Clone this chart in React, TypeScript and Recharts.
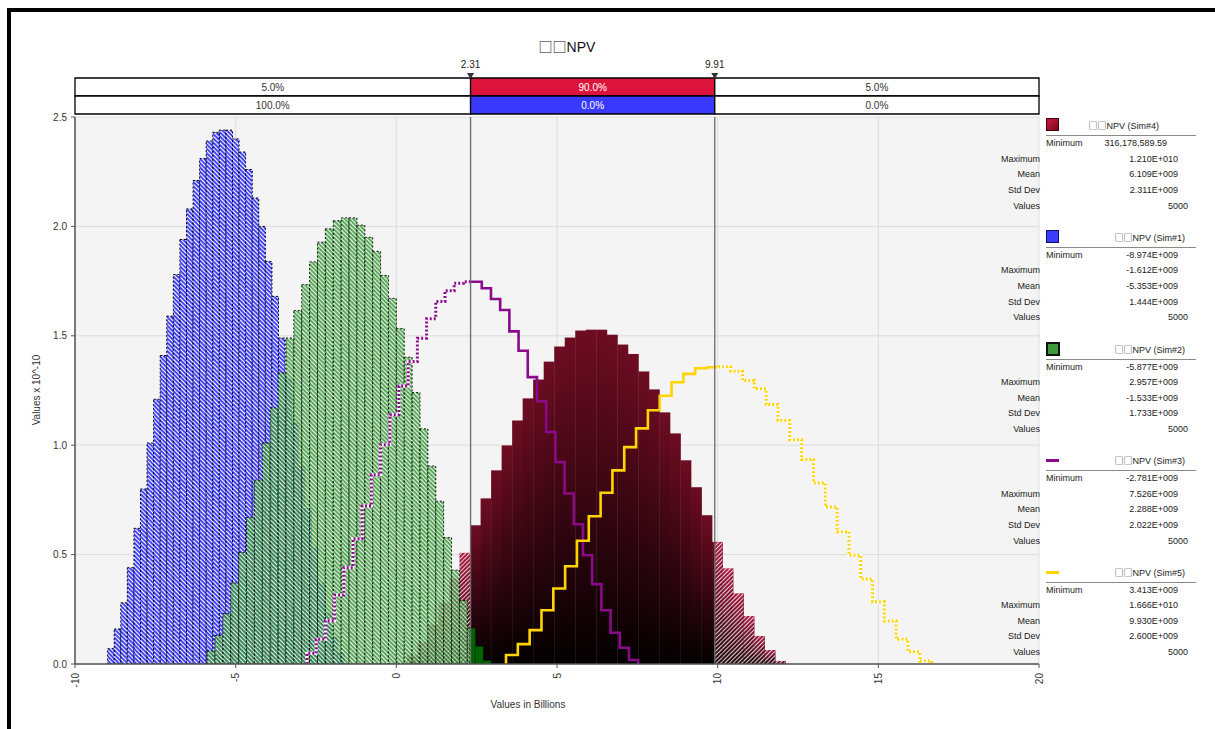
import React from "react";
import {
  ComposedChart,
  Bar,
  Line,
  XAxis,
  YAxis,
  CartesianGrid,
  ReferenceLine,
  ReferenceArea,
  ReferenceDot,
} from "recharts";

const FONT = "'Liberation Sans', 'DejaVu Sans', sans-serif";
const BOX_FONT = "'Noto Sans CJK SC', 'DejaVu Sans', sans-serif";

// selected window on the x axis (billions)
const rangeLow = 2.31;
const rangeHigh = 9.91;
const binCount = 36;

// min / max of each simulation (billions) and its histogram heights (x 10^-10)
const sim1Bounds = [-8.974, -1.612];
const sim1Heights = [
  0.07, 0.16, 0.28, 0.44, 0.62, 0.8, 1.01, 1.21, 1.41, 1.59, 1.78, 1.94, 2.08, 2.21, 2.31, 2.39, 2.43, 2.44,
  2.44, 2.4, 2.34, 2.26, 2.13, 2.0, 1.84, 1.68, 1.49, 1.3, 1.1, 0.9, 0.71, 0.53, 0.37, 0.23, 0.12, 0.05,
];
const sim2Bounds = [-5.877, 2.957];
const sim2Heights = [
  0.06, 0.13, 0.23, 0.37, 0.51, 0.67, 0.84, 1.01, 1.17, 1.33, 1.49, 1.615, 1.734, 1.838, 1.928, 1.989, 2.026, 2.039,
  2.039, 2.006, 1.95, 1.886, 1.776, 1.671, 1.533, 1.402, 1.241, 1.075, 0.905, 0.744, 0.578, 0.429, 0.29, 0.164, 0.08, 0.015,
];
const sim3Bounds = [-2.781, 7.526];
const sim3Heights = [
  0.049, 0.113, 0.198, 0.315, 0.44, 0.573, 0.722, 0.865, 1.002, 1.139, 1.27, 1.382, 1.489, 1.578, 1.657, 1.706, 1.74, 1.747,
  1.747, 1.717, 1.668, 1.618, 1.52, 1.432, 1.311, 1.201, 1.06, 0.923, 0.779, 0.639, 0.497, 0.365, 0.246, 0.143, 0.074, 0.018,
];
const sim4Bounds = [0.316, 12.1];
const sim4Heights = [
  0.04, 0.1, 0.18, 0.28, 0.39, 0.508, 0.634, 0.757, 0.885, 0.999, 1.113, 1.214, 1.3, 1.382, 1.451, 1.492, 1.524, 1.528,
  1.528, 1.505, 1.46, 1.417, 1.337, 1.255, 1.15, 1.054, 0.931, 0.808, 0.68, 0.558, 0.437, 0.323, 0.219, 0.128, 0.064, 0.014,
];
const sim5Bounds = [3.413, 16.66];
const sim5Heights = [
  0.041, 0.091, 0.155, 0.246, 0.345, 0.447, 0.563, 0.675, 0.783, 0.885, 0.991, 1.077, 1.16, 1.226, 1.288, 1.326, 1.352, 1.356,
  1.359, 1.338, 1.296, 1.258, 1.186, 1.113, 1.025, 0.935, 0.827, 0.718, 0.604, 0.497, 0.388, 0.284, 0.196, 0.113, 0.056, 0.014,
];

const xTicks = [-10, -5, 0, 5, 10, 15, 20];
const yTicks = [0, 0.5, 1, 1.5, 2, 2.5];

// delimiter bar above the plot
const sim4Shares = ["5.0%", "90.0%", "5.0%"];
const sim1Shares = ["100.0%", "0.0%", "0.0%"];

// statistics panel
const chartTitle = "□□NPV";
const legendNames = ["□□NPV (Sim#4)", "□□NPV (Sim#1)", "□□NPV (Sim#2)", "□□NPV (Sim#3)", "□□NPV (Sim#5)"];
const legendMinimum = ["316,178,589.59", "-8.974E+009", "-5.877E+009", "-2.781E+009", "3.413E+009"];
const legendMaximum = ["1.210E+010", "-1.612E+009", "2.957E+009", "7.526E+009", "1.666E+010"];
const legendMean = ["6.109E+009", "-5.353E+009", "-1.533E+009", "2.288E+009", "9.930E+009"];
const legendStdDev = ["2.311E+009", "1.444E+009", "1.733E+009", "2.022E+009", "2.600E+009"];
const legendValues = ["5000", "5000", "5000", "5000", "5000"];

// layout
const W = 1215;
const MAIN_H = 721;
const M_LEFT = 35;
const Y_W = 40;
const M_RIGHT = 176;
const PX_PER_UNIT = (W - M_LEFT - Y_W - M_RIGHT) / 30;

const binWidth = (b: number[]) => (b[1] - b[0]) / binCount;

// one row per bin, each simulation on its own hidden x axis
const histRows = Array.from({ length: binCount }, (_, k) => {
  const row: any = {};
  const add = (key: string, b: number[], h: number[]) => {
    const w = binWidth(b);
    row[key + "Lo"] = b[0] + k * w;
    row[key + "Hi"] = b[0] + (k + 1) * w;
    row[key + "x"] = b[0] + (k + 0.5) * w;
    row[key + "h"] = h[k];
  };
  add("b", sim1Bounds, sim1Heights);
  add("g", sim2Bounds, sim2Heights);
  add("m", sim4Bounds, sim4Heights);
  return row;
});

// step outline of a histogram
const stepOutline = (b: number[], h: number[]) => {
  const w = binWidth(b);
  const pts = [{ x: b[0], y: 0 }];
  h.forEach((v, k) => pts.push({ x: b[0] + k * w, y: v }));
  pts.push({ x: b[1], y: h[h.length - 1] });
  pts.push({ x: b[1], y: 0 });
  return pts;
};

const valueAt = (pts: { x: number; y: number }[], v: number) => {
  let y = 0;
  for (const p of pts) {
    if (p.x <= v) y = p.y;
    else break;
  }
  return y;
};

const clipSteps = (pts: { x: number; y: number }[], a: number, b: number) => {
  const first = pts[0].x;
  const last = pts[pts.length - 1].x;
  const lo = Math.max(a, first);
  const hi = Math.min(b, last);
  if (lo >= hi) return [];
  const inner = pts.filter((p) => (lo > first ? p.x > lo : p.x >= lo) && (hi < last ? p.x < hi : p.x <= hi));
  return [
    ...(lo > first ? [{ x: lo, y: valueAt(pts, lo) }] : []),
    ...inner,
    ...(hi < last ? [{ x: hi, y: valueAt(pts, hi) }] : []),
  ];
};

const purpleSteps = stepOutline(sim3Bounds, sim3Heights);
const yellowSteps = stepOutline(sim5Bounds, sim5Heights);

const lineSeries = [
  { pts: purpleSteps, color: "#8b0a8b" },
  { pts: yellowSteps, color: "#ffd400" },
];

// split a bar into parts outside / inside the selected window
// (width rebuilt from the bin so that neighbouring bars touch)
const splitBar = (x0: number, w0: number, lo: number, hi: number) => {
  const width = (hi - lo) * PX_PER_UNIT;
  const x = x0 + w0 / 2 - width / 2;
  const toPx = (v: number) => x + (width * (v - lo)) / (hi - lo);
  const a = Math.min(Math.max(toPx(rangeLow), x), x + width);
  const b = Math.min(Math.max(toPx(rangeHigh), x), x + width);
  const parts: { from: number; to: number; inside: boolean }[] = [];
  if (a > x) parts.push({ from: x, to: a, inside: false });
  if (b > a) parts.push({ from: a, to: b, inside: true });
  if (x + width > b) parts.push({ from: b, to: x + width, inside: false });
  return parts;
};

const BlueBar = (p: any) => {
  const { x, y, width, height, payload } = p;
  if (!(height > 0)) return <g />;
  return (
    <g>
      {splitBar(x, width, payload.bLo, payload.bHi).map((s, i) => (
        <rect
          key={i}
          x={s.from}
          y={y}
          width={s.to - s.from}
          height={height}
          fill={s.inside ? "#3c3cff" : "url(#blueHatch)"}
          stroke="#000"
          strokeWidth={1}
          strokeDasharray={s.inside ? undefined : "2 2"}
        />
      ))}
    </g>
  );
};

const GreenBar = (p: any) => {
  const { x, y, width, height, payload } = p;
  if (!(height > 0)) return <g />;
  return (
    <g>
      {splitBar(x, width, payload.gLo, payload.gHi).map((s, i) =>
        s.inside ? (
          <rect key={i} x={s.from} y={y} width={s.to - s.from} height={height} fill="#006400" stroke="#003a00" strokeWidth={0.6} />
        ) : (
          <rect
            key={i}
            x={s.from}
            y={y}
            width={s.to - s.from}
            height={height}
            fill="url(#greenHatch)"
            fillOpacity={0.8}
            stroke="#000"
            strokeOpacity={0.9}
            strokeWidth={1}
            strokeDasharray="2 2"
          />
        )
      )}
    </g>
  );
};

const MaroonBar = (p: any) => {
  const { x, y, width, height, payload } = p;
  if (!(height > 0)) return <g />;
  return (
    <g>
      {splitBar(x, width, payload.mLo, payload.mHi).map((s, i) => (
        <g key={i}>
          <rect
            x={s.from}
            y={y}
            width={s.to - s.from + 0.4}
            height={height}
            fill={s.inside ? "url(#maroonGrad)" : "url(#maroonTail)"}
          />
          {!s.inside && <rect x={s.from} y={y} width={s.to - s.from} height={height} fill="url(#whiteHatch)" />}
        </g>
      ))}
    </g>
  );
};

const XTick = (p: any) => {
  const { x, y, payload } = p;
  return (
    <text
      x={x}
      y={y}
      transform={`rotate(-90 ${x} ${y})`}
      textAnchor="end"
      dominantBaseline="central"
      fontSize={10}
      fill="#333"
      fontFamily={FONT}
    >
      {payload.value}
    </text>
  );
};

const Marker = (p: any) => {
  const { cx, cy } = p;
  return <path d={`M${cx - 3.5},${cy - 5} L${cx + 3.5},${cy - 5} L${cx},${cy + 1} Z`} fill="#333" />;
};

// the missing-glyph boxes are drawn with a CJK font so they come out full width
const Boxed = ({ text }: { text: string }) => (
  <>
    {Array.from(text).map((ch, i) =>
      ch === "□" ? (
        <span key={i} style={{ fontFamily: BOX_FONT }}>
          {ch}
        </span>
      ) : (
        <React.Fragment key={i}>{ch}</React.Fragment>
      )
    )}
  </>
);

const Txt = ({ x, y, align, children, size = 9, color = "#222", width = 160 }: any) => {
  const left = align === "right" ? x - width : align === "center" ? x - width / 2 : x;
  return (
    <div
      style={{
        position: "absolute",
        left,
        top: y - 7,
        width,
        height: 14,
        lineHeight: "14px",
        fontSize: size,
        textAlign: align,
        color,
        whiteSpace: "nowrap",
        fontFamily: FONT,
      }}
    >
      {children}
    </div>
  );
};

const Swatch = ({ i, cy }: { i: number; cy: number }) => {
  const box = { position: "absolute" as const, left: 1046, top: cy - 8, width: 11, height: 11 };
  if (i === 0)
    return <div style={{ ...box, background: "linear-gradient(135deg, #d0163f, #7a0a22)", border: "1px solid #3a0010" }} />;
  if (i === 1) return <div style={{ ...box, background: "#3c3cff", border: "1px solid #101060" }} />;
  if (i === 2) return <div style={{ ...box, width: 10, height: 10, background: "#3c9a3c", border: "2px solid #111" }} />;
  return (
    <div
      style={{ position: "absolute", left: 1046, top: cy - 2, width: 13, height: 3, background: i === 3 ? "#8b0a8b" : "#ffd400" }}
    />
  );
};

const LegendBlock = ({ i }: { i: number }) => {
  const cy = 126.3 + i * 111.6;
  const rows = [
    ["Maximum", legendMaximum[i]],
    ["Mean", legendMean[i]],
    ["Std Dev", legendStdDev[i]],
  ];
  return (
    <>
      <Swatch i={i} cy={cy} />
      <Txt x={i === 0 ? 1159 : 1185} y={cy} align="right">
        <Boxed text={legendNames[i]} />
      </Txt>
      <div style={{ position: "absolute", left: 1046, top: cy + 9, width: 150, height: 1, background: "#8a8a8a" }} />
      <Txt x={1046} y={cy + 17} align="left">
        Minimum
      </Txt>
      <Txt x={i === 0 ? 1167 : 1178} y={cy + 17} align="right">
        {legendMinimum[i]}
      </Txt>
      {rows.map((r, j) => (
        <React.Fragment key={j}>
          <Txt x={1040} y={cy + 32.5 + j * 15.6} align="right">
            {r[0]}
          </Txt>
          <Txt x={1178} y={cy + 32.5 + j * 15.6} align="right">
            {r[1]}
          </Txt>
        </React.Fragment>
      ))}
      <Txt x={1040} y={cy + 79.5} align="right">
        Values
      </Txt>
      <Txt x={1188} y={cy + 79.5} align="right">
        {legendValues[i]}
      </Txt>
    </>
  );
};

const segments = [
  [-10, rangeLow],
  [rangeLow, rangeHigh],
  [rangeHigh, 20],
];

const App = () => {
  return (
    <div style={{ position: "fixed", left: 0, top: 0, width: W, height: 729, background: "#fff", overflow: "hidden" }}>
      {/* frame */}
      <div
        style={{
          position: "absolute",
          left: 7,
          top: 8,
          width: 1206,
          height: 760,
          borderTop: "4px solid #000",
          borderLeft: "4px solid #000",
          borderRight: "4px solid #000",
        }}
      />

      <ComposedChart
        width={W}
        height={MAIN_H}
        data={histRows}
        margin={{ top: 117, right: M_RIGHT, bottom: 27, left: M_LEFT }}
        barGap={0}
        barCategoryGap={0}
        style={{ position: "absolute", left: 0, top: 0 }}
      >
        <defs>
          <pattern id="blueHatch" width="3" height="3" patternUnits="userSpaceOnUse" patternTransform="rotate(-45)">
            <rect width="3" height="3" fill="#3c3cff" />
            <rect width="1.1" height="3" fill="#ffffff" />
          </pattern>
          <pattern id="greenHatch" width="3" height="3" patternUnits="userSpaceOnUse" patternTransform="rotate(-45)">
            <rect width="3" height="3" fill="#2f932f" />
            <rect width="1.1" height="3" fill="#e6f4e6" />
          </pattern>
          <pattern id="whiteHatch" width="3" height="3" patternUnits="userSpaceOnUse" patternTransform="rotate(45)">
            <rect width="1.1" height="3" fill="#ffffff" fillOpacity={0.8} />
          </pattern>
          <linearGradient id="maroonGrad" x1="0" y1="0" x2="0" y2="1">
            <stop offset="0%" stopColor="#6e0c22" />
            <stop offset="100%" stopColor="#030001" />
          </linearGradient>
          <linearGradient id="maroonTail" x1="0" y1="0" x2="0" y2="1">
            <stop offset="0%" stopColor="#a3123a" />
            <stop offset="100%" stopColor="#1a0007" />
          </linearGradient>
        </defs>

        <CartesianGrid fill="#f4f4f4" stroke="#dcdcdc" strokeWidth={1} />

        <XAxis
          type="number"
          dataKey="x"
          domain={[-10, 20]}
          ticks={xTicks}
          allowDataOverflow
          height={30}
          tick={<XTick />}
          tickSize={4}
          tickMargin={5}
          axisLine={{ stroke: "#555", strokeWidth: 1.5 }}
          tickLine={{ stroke: "#555" }}
          interval={0}
        />
        <XAxis xAxisId="b" type="number" dataKey="bx" domain={[-10, 20]} hide allowDataOverflow />
        <XAxis xAxisId="g" type="number" dataKey="gx" domain={[-10, 20]} hide allowDataOverflow />
        <XAxis xAxisId="m" type="number" dataKey="mx" domain={[-10, 20]} hide allowDataOverflow />
        <YAxis
          type="number"
          domain={[0, 2.5]}
          ticks={yTicks}
          width={Y_W}
          allowDataOverflow
          tickFormatter={(v: number) => v.toFixed(1)}
          tick={{ fontSize: 10, fill: "#333", fontFamily: FONT }}
          tickSize={4}
          tickMargin={4}
          axisLine={{ stroke: "#555", strokeWidth: 1.5 }}
          tickLine={{ stroke: "#555" }}
          interval={0}
        />

        <Bar
          xAxisId="m"
          dataKey="mh"
          barSize={binWidth(sim4Bounds) * PX_PER_UNIT}
          shape={(p: any) => <MaroonBar {...p} />}
          isAnimationActive={false}
        />
        <Bar
          xAxisId="b"
          dataKey="bh"
          barSize={binWidth(sim1Bounds) * PX_PER_UNIT}
          shape={(p: any) => <BlueBar {...p} />}
          isAnimationActive={false}
        />
        <Bar
          xAxisId="g"
          dataKey="gh"
          barSize={binWidth(sim2Bounds) * PX_PER_UNIT}
          shape={(p: any) => <GreenBar {...p} />}
          isAnimationActive={false}
        />

        {lineSeries.map((s, i) => {
          const left = clipSteps(s.pts, -Infinity, rangeLow);
          const mid = clipSteps(s.pts, rangeLow, rangeHigh);
          const right = clipSteps(s.pts, rangeHigh, Infinity);
          return (
            <React.Fragment key={i}>
              {[left, right]
                .filter((d) => d.length > 1)
                .map((d, j) => (
                  <React.Fragment key={j}>
                    <Line
                      data={d}
                      dataKey="y"
                      type="stepAfter"
                      stroke="#ffffff"
                      strokeWidth={3}
                      dot={false}
                      activeDot={false}
                      isAnimationActive={false}
                    />
                    <Line
                      data={d}
                      dataKey="y"
                      type="stepAfter"
                      stroke={s.color}
                      strokeWidth={3}
                      strokeDasharray="2 2"
                      dot={false}
                      activeDot={false}
                      isAnimationActive={false}
                    />
                  </React.Fragment>
                ))}
              {mid.length > 1 && (
                <Line
                  data={mid}
                  dataKey="y"
                  type="stepAfter"
                  stroke={s.color}
                  strokeWidth={2.6}
                  dot={false}
                  activeDot={false}
                  isAnimationActive={false}
                />
              )}
            </React.Fragment>
          );
        })}

        <ReferenceLine x={rangeLow} stroke="#6a6a6a" strokeWidth={1.3} />
        <ReferenceLine x={rangeHigh} stroke="#6a6a6a" strokeWidth={1.3} />
      </ComposedChart>

      {/* delimiter bar */}
      <ComposedChart
        width={W}
        height={116}
        data={[{ x: -10 }, { x: 20 }]}
        margin={{ top: 78, right: M_RIGHT, bottom: 2, left: M_LEFT + Y_W }}
        style={{ position: "absolute", left: 0, top: 0 }}
      >
        <XAxis type="number" dataKey="x" domain={[-10, 20]} hide allowDataOverflow />
        <YAxis type="number" domain={[0, 2]} hide allowDataOverflow />
        {segments.map((seg, j) => (
          <ReferenceArea
            key={"t" + j}
            x1={seg[0]}
            x2={seg[1]}
            y1={1}
            y2={2}
            fill={j === 1 ? "#dc143c" : "#ffffff"}
            fillOpacity={1}
            stroke="#000"
            strokeWidth={1.3}
            ifOverflow="visible"
            label={{ value: sim4Shares[j], position: "center", fontSize: 10, fill: j === 1 ? "#ffffff" : "#333", fontFamily: FONT }}
          />
        ))}
        {segments.map((seg, j) => (
          <ReferenceArea
            key={"u" + j}
            x1={seg[0]}
            x2={seg[1]}
            y1={0}
            y2={1}
            fill={j === 1 ? "#3a3aff" : "#ffffff"}
            fillOpacity={1}
            stroke="#000"
            strokeWidth={1.3}
            ifOverflow="visible"
            label={{ value: sim1Shares[j], position: "center", fontSize: 10, fill: j === 1 ? "#ffffff" : "#333", fontFamily: FONT }}
          />
        ))}
        {[rangeLow, rangeHigh].map((v) => (
          <ReferenceDot
            key={v}
            x={v}
            y={2}
            r={3}
            shape={(p: any) => <Marker {...p} />}
            ifOverflow="visible"
            label={{ value: v.toFixed(2), position: "top", offset: 7, fontSize: 10, fill: "#222", fontFamily: FONT }}
          />
        ))}
      </ComposedChart>

      {/* title and axis titles */}
      <Txt x={567} y={46} align="center" size={14} color="#111" width={200}>
        <Boxed text={chartTitle} />
      </Txt>
      <Txt x={528} y={705} align="center" size={10} color="#333" width={200}>
        Values in Billions
      </Txt>
      <div
        style={{
          position: "absolute",
          left: 37 - 100,
          top: 390 - 7,
          width: 200,
          height: 14,
          lineHeight: "14px",
          fontSize: 10,
          color: "#333",
          textAlign: "center",
          fontFamily: FONT,
          transform: "rotate(-90deg)",
          whiteSpace: "nowrap",
        }}
      >
        Values x 10^-10
      </div>

      {legendNames.map((_, i) => (
        <LegendBlock key={i} i={i} />
      ))}
    </div>
  );
};

export default App;
